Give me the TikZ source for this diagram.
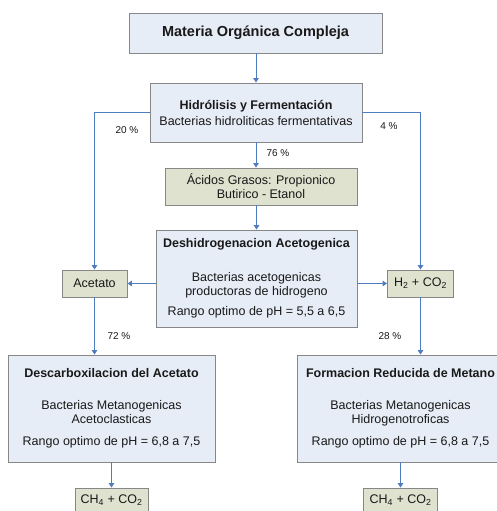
\documentclass[tikz,border=0pt]{standalone}
\usepackage{fontspec}
\setmainfont{Liberation Sans}
\usetikzlibrary{arrows.meta}
\definecolor{boxblue}{RGB}{231,237,247}
\definecolor{boxgreen}{RGB}{222,226,207}
\definecolor{edgegray}{RGB}{135,135,135}
\definecolor{arrowblue}{RGB}{79,124,190}
\definecolor{txt}{RGB}{25,25,25}
\begin{document}
\begin{tikzpicture}[x=1pt,y=-1pt,
  every node/.style={text=txt,font=\fontsize{12.5}{14}\selectfont},
  bluebox/.style={draw=edgegray,line width=0.9pt,fill=boxblue,inner sep=0pt,align=center},
  greenbox/.style={draw=edgegray,line width=0.9pt,fill=boxgreen,inner sep=0pt,align=center},
  arr/.style={draw=arrowblue,line width=1pt,-{Triangle[width=5.5pt,length=4.5pt]}},
  pct/.style={font=\fontsize{10}{12}\selectfont,inner sep=0pt}]
\useasboundingbox (0,0) rectangle (496,511);
\fill[white] (0,0) rectangle (496,511);

\node[bluebox,minimum width=253pt,minimum height=40pt,font=\fontsize{14.5}{16}\selectfont\bfseries] (top) at (255.5,33) {Materia Orgánica Compleja};
\node[bluebox,minimum width=212pt,minimum height=59pt] (hid) at (256,112.5) {\textbf{Hidrólisis y Fermentación}\\[2pt]Bacterias hidroliticas fermentativas};
\node[greenbox,minimum width=192pt,minimum height=37pt] (acid) at (261,186.5) {Ácidos Grasos: Propionico\\Butirico - Etanol};
\node[bluebox,minimum width=201pt,minimum height=97pt] (desh) at (256.5,278.5) {\textbf{Deshidrogenacion Acetogenica}\\[20pt]Bacterias acetogenicas\\productoras de hidrogeno\\[6pt]Rango optimo de pH = 5,5 a 6,5};
\node[greenbox,minimum width=65pt,minimum height=27pt] (acet) at (94.5,283.5) {Acetato};
\node[greenbox,minimum width=66pt,minimum height=27pt] (h2) at (420.5,283.5) {H\textsubscript{2} + CO\textsubscript{2}};
\node[bluebox,minimum width=207pt,minimum height=107pt] (desc) at (111.5,408.5) {\textbf{Descarboxilacion del Acetato}\\[18pt]Bacterias Metanogenicas\\Acetoclasticas\\[8pt]Rango optimo de pH = 6,8 a 7,5};
\node[bluebox,minimum width=207pt,minimum height=107pt] (form) at (400.5,408.5) {\textbf{Formacion Reducida de Metano}\\[18pt]Bacterias Metanogenicas\\Hidrogenotroficas\\[8pt]Rango optimo de pH = 6,8 a 7,5};
\node[greenbox,minimum width=73pt,minimum height=24pt] (ch4a) at (111.5,500) {CH\textsubscript{4} + CO\textsubscript{2}};
\node[greenbox,minimum width=74pt,minimum height=24pt] (ch4b) at (400.5,500) {CH\textsubscript{4} + CO\textsubscript{2}};

\draw[arr] (top.south -| hid.north) -- (hid.north);
\draw[arr] (hid.west) -| (acet.north);
\draw[arr] (hid.east) -| (h2.north);
\draw[arr] (hid.south) -- (hid.south |- acid.north);
\draw[arr] (desh.north |- acid.south) -- (desh.north);
\draw[arr] (desh.west |- acet) -- (acet.east);
\draw[arr] (desh.east |- h2) -- (h2.west);
\draw[arr] (acet.south) -- (acet.south |- desc.north);
\draw[arr] (h2.south) -- (h2.south |- form.north);
\draw[arr] (desc.south) -- (ch4a.north);
\draw[arr] (form.south) -- (ch4b.north);

\node[pct] (p20) at (127,130) {20 \%};
\node[pct] (p4) at (389,126) {4 \%};
\node[pct] (p76) at (278,153) {76 \%};
\node[pct] (p72) at (119,336) {72 \%};
\node[pct] (p28) at (390,336) {28 \%};
\end{tikzpicture}
\end{document}
